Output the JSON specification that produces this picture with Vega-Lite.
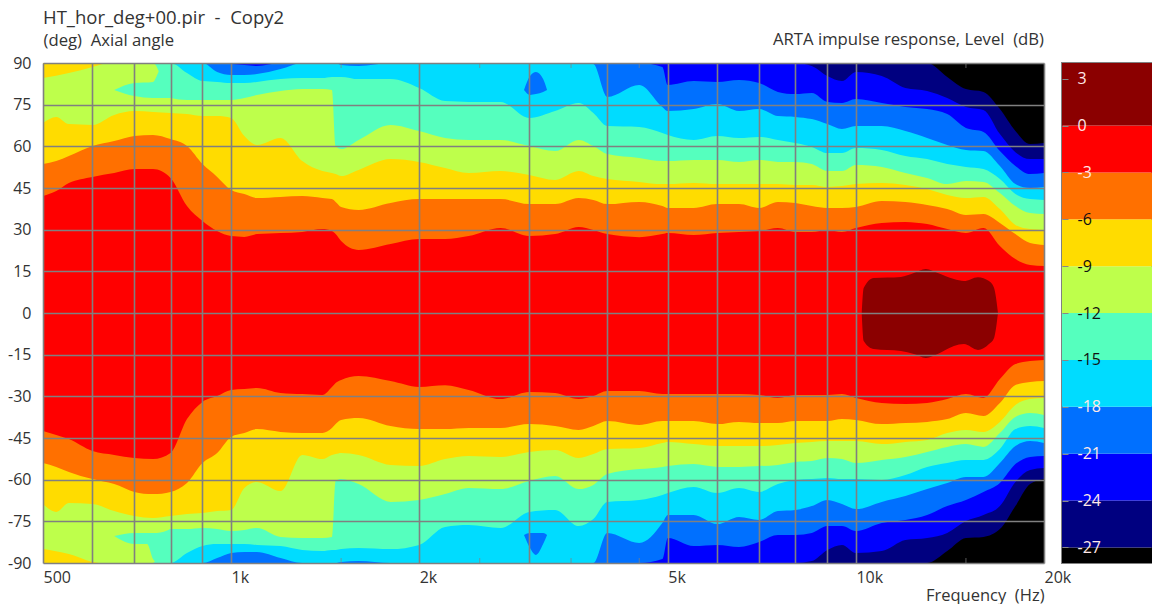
{"$schema":"https://vega.github.io/schema/vega-lite/v6.json","background":"white","padding":{"left":7,"top":8,"right":0,"bottom":0},"bounds":"flush","spacing":18,
"config":{"font":"Open Sans","view":{"stroke":null},"area":{"interpolate":"monotone"}},
"datasets":{
"contours":[
{"hz":500,"t3":42.1,"b3":-42.5,"t6":53.6,"b6":-54,"t9":68.4,"b9":-68.8,"t12":90,"b12":-90,"t15":90,"b15":-90,"t18":90,"b18":-90,"t21":90,"b21":-90,"t24":90,"b24":-90,"t27":90,"b27":-90},
{"hz":525,"t3":43.9,"b3":-43.9,"t6":54.7,"b6":-55.4,"t9":70.6,"b9":-71.6,"t12":90,"b12":-90,"t15":90,"b15":-90,"t18":90,"b18":-90,"t21":90,"b21":-90,"t24":90,"b24":-90,"t27":90,"b27":-90},
{"hz":550,"t3":46.8,"b3":-45.4,"t6":56.5,"b6":-57.2,"t9":68,"b9":-68.4,"t12":90,"b12":-90,"t15":90,"b15":-90,"t18":90,"b18":-90,"t21":90,"b21":-90,"t24":90,"b24":-90,"t27":90,"b27":-90},
{"hz":600,"t3":49,"b3":-49.7,"t6":60.1,"b6":-59.8,"t9":67.7,"b9":-68.8,"t12":90,"b12":-90,"t15":90,"b15":-90,"t18":90,"b18":-90,"t21":90,"b21":-90,"t24":90,"b24":-90,"t27":90,"b27":-90},
{"hz":650,"t3":50.4,"b3":-51.1,"t6":61.9,"b6":-61.6,"t9":71.3,"b9":-71.3,"t12":90,"b12":-90,"t15":90,"b15":-90,"t18":90,"b18":-90,"t21":90,"b21":-90,"t24":90,"b24":-90,"t27":90,"b27":-90},
{"hz":700,"t3":51.8,"b3":-52.2,"t6":63.7,"b6":-64.4,"t9":72.7,"b9":-73.1,"t12":90,"b12":-90,"t15":90,"b15":-90,"t18":90,"b18":-90,"t21":90,"b21":-90,"t24":90,"b24":-90,"t27":90,"b27":-90},
{"hz":750,"t3":51.8,"b3":-52.6,"t6":64.1,"b6":-65.2,"t9":72.4,"b9":-73.8,"t12":90,"b12":-90,"t15":90,"b15":-90,"t18":90,"b18":-90,"t21":90,"b21":-90,"t24":90,"b24":-90,"t27":90,"b27":-90},
{"hz":800,"t3":48.6,"b3":-50.4,"t6":62.6,"b6":-64.4,"t9":72,"b9":-73.1,"t12":77.4,"b12":-77.8,"t15":90,"b15":-90,"t18":90,"b18":-90,"t21":90,"b21":-90,"t24":90,"b24":-90,"t27":90,"b27":-90},
{"hz":850,"t3":38.5,"b3":-38.2,"t6":60.1,"b6":-61.2,"t9":71.6,"b9":-72.4,"t12":76.7,"b12":-77.8,"t15":86.4,"b15":-86.4,"t18":90,"b18":-90,"t21":90,"b21":-90,"t24":90,"b24":-90,"t27":90,"b27":-90},
{"hz":900,"t3":33.1,"b3":-32,"t6":53.6,"b6":-54,"t9":70.9,"b9":-72,"t12":76.7,"b12":-77.4,"t15":83.5,"b15":-83.9,"t18":90,"b18":-90,"t21":90,"b21":-90,"t24":90,"b24":-90,"t27":90,"b27":-90},
{"hz":950,"t3":29.5,"b3":-29.9,"t6":49,"b6":-50.4,"t9":70.9,"b9":-71.3,"t12":76.7,"b12":-77.8,"t15":83.2,"b15":-83.2,"t18":86.8,"b18":-88.2,"t21":90,"b21":-90,"t24":90,"b24":-90,"t27":90,"b27":-90},
{"hz":1000,"t3":27.7,"b3":-27.7,"t6":44.3,"b6":-44.6,"t9":70.2,"b9":-70.9,"t12":76.7,"b12":-78.5,"t15":82.8,"b15":-83.2,"t18":85.7,"b18":-86.4,"t21":89.6,"b21":-90,"t24":90,"b24":-90,"t27":90,"b27":-90},
{"hz":1050,"t3":27.4,"b3":-27.4,"t6":42.8,"b6":-43.2,"t9":63.7,"b9":-63,"t12":77.4,"b12":-78.1,"t15":82.8,"b15":-83.2,"t18":85.7,"b18":-86,"t21":89.3,"b21":-90,"t24":90,"b24":-90,"t27":90,"b27":-90},
{"hz":1100,"t3":28.4,"b3":-27,"t6":41.4,"b6":-41.8,"t9":60.5,"b9":-60.8,"t12":78.5,"b12":-77.4,"t15":83.2,"b15":-83.5,"t18":86,"b18":-86,"t21":88.9,"b21":-90,"t24":90,"b24":-90,"t27":90,"b27":-90},
{"hz":1200,"t3":28.8,"b3":-28.8,"t6":41.8,"b6":-42.8,"t9":63,"b9":-64.1,"t12":79.9,"b12":-80.6,"t15":84.2,"b15":-83.9,"t18":87.8,"b18":-88.2,"t21":90,"b21":-90,"t24":90,"b24":-90,"t27":90,"b27":-90},
{"hz":1300,"t3":29.2,"b3":-29.2,"t6":42.1,"b6":-43.2,"t9":54.7,"b9":-51.1,"t12":80.6,"b12":-81,"t15":84.6,"b15":-85.3,"t18":90,"b18":-90,"t21":90,"b21":-90,"t24":90,"b24":-90,"t27":90,"b27":-90},
{"hz":1400,"t3":30.2,"b3":-29.5,"t6":41.4,"b6":-43.2,"t9":51.1,"b9":-52.6,"t12":80.6,"b12":-81,"t15":84.6,"b15":-85.7,"t18":90,"b18":-90,"t21":90,"b21":-90,"t24":90,"b24":-90,"t27":90,"b27":-90},
{"hz":1450,"t3":29.5,"b3":-26.6,"t6":41,"b6":-41.4,"t9":50.4,"b9":-51.1,"t12":80.3,"b12":-80.6,"t15":85,"b15":-85.3,"t18":90,"b18":-90,"t21":90,"b21":-90,"t24":90,"b24":-90,"t27":90,"b27":-90},
{"hz":1470,"t3":28.4,"b3":-25.2,"t6":40,"b6":-40,"t9":50,"b9":-50.8,"t12":60.1,"b12":-60.5,"t15":85,"b15":-85.3,"t18":90,"b18":-90,"t21":90,"b21":-90,"t24":90,"b24":-90,"t27":90,"b27":-90},
{"hz":1500,"t3":25.9,"b3":-24.1,"t6":38.2,"b6":-38.5,"t9":49.3,"b9":-50.4,"t12":59,"b12":-59.8,"t15":85,"b15":-85,"t18":89.3,"b18":-89.6,"t21":90,"b21":-90,"t24":90,"b24":-90,"t27":90,"b27":-90},
{"hz":1600,"t3":22.7,"b3":-22.7,"t6":37.1,"b6":-37.8,"t9":51.5,"b9":-51.1,"t12":62.3,"b12":-61.6,"t15":84.2,"b15":-84.6,"t18":88.9,"b18":-89.3,"t21":90,"b21":-90,"t24":90,"b24":-90,"t27":90,"b27":-90},
{"hz":1800,"t3":24.8,"b3":-24.5,"t6":39.6,"b6":-40.7,"t9":55.4,"b9":-54.7,"t12":67.7,"b12":-68,"t15":84.2,"b15":-85,"t18":90,"b18":-90,"t21":90,"b21":-90,"t24":90,"b24":-90,"t27":90,"b27":-90},
{"hz":2000,"t3":26.6,"b3":-26.6,"t6":41,"b6":-41.8,"t9":54.4,"b9":-55.1,"t12":65.5,"b12":-67.3,"t15":81,"b15":-83.5,"t18":90,"b18":-90,"t21":90,"b21":-90,"t24":90,"b24":-90,"t27":90,"b27":-90},
{"hz":2200,"t3":26.6,"b3":-26,"t6":41,"b6":-41.8,"t9":52.2,"b9":-52.6,"t12":63,"b12":-65.2,"t15":76.3,"b15":-77,"t18":90,"b18":-90,"t21":90,"b21":-90,"t24":90,"b24":-90,"t27":90,"b27":-90},
{"hz":2400,"t3":27.7,"b3":-27.7,"t6":41,"b6":-41.4,"t9":50.4,"b9":-51.5,"t12":62.3,"b12":-63,"t15":76,"b15":-76.3,"t18":90,"b18":-90,"t21":90,"b21":-90,"t24":90,"b24":-90,"t27":90,"b27":-90},
{"hz":2700,"t3":30.6,"b3":-31,"t6":41,"b6":-41.4,"t9":51.1,"b9":-51.8,"t12":62.3,"b12":-63.4,"t15":76,"b15":-77.4,"t18":90,"b18":-90,"t21":90,"b21":-90,"t24":90,"b24":-90,"t27":90,"b27":-90},
{"hz":3000,"t3":27.7,"b3":-28.4,"t6":39.2,"b6":-40,"t9":49.7,"b9":-50,"t12":60.1,"b12":-60.5,"t15":70.2,"b15":-71.6,"t18":90,"b18":-90,"t21":90,"b21":-90,"t24":90,"b24":-90,"t27":90,"b27":-90},
{"hz":3300,"t3":28.4,"b3":-28.8,"t6":39.2,"b6":-40.7,"t9":47.9,"b9":-49.3,"t12":58.3,"b12":-58.7,"t15":72.7,"b15":-70.9,"t18":90,"b18":-90,"t21":90,"b21":-90,"t24":90,"b24":-90,"t27":90,"b27":-90},
{"hz":3600,"t3":31,"b3":-31,"t6":41.4,"b6":-42.1,"t9":51.1,"b9":-52.2,"t12":62.3,"b12":-63.4,"t15":75.6,"b15":-76.7,"t18":90,"b18":-90,"t21":90,"b21":-90,"t24":90,"b24":-90,"t27":90,"b27":-90},
{"hz":3800,"t3":29.9,"b3":-29.9,"t6":40.7,"b6":-40.7,"t9":49.3,"b9":-50.8,"t12":60.1,"b12":-61.9,"t15":72,"b15":-74.2,"t18":89.6,"b18":-90,"t21":90,"b21":-90,"t24":90,"b24":-90,"t27":90,"b27":-90},
{"hz":4000,"t3":28.4,"b3":-28.1,"t6":39.2,"b6":-38.9,"t9":48.2,"b9":-49,"t12":57.2,"b12":-58,"t15":67.3,"b15":-68,"t18":77.8,"b18":-79.2,"t21":90,"b21":-90,"t24":90,"b24":-90,"t27":90,"b27":-90},
{"hz":4500,"t3":27.3,"b3":-28.1,"t6":40,"b6":-40.3,"t9":47.2,"b9":-48.6,"t12":55.8,"b12":-56.2,"t15":67,"b15":-67.3,"t18":82.1,"b18":-82.8,"t21":90,"b21":-90,"t24":90,"b24":-90,"t27":90,"b27":-90},
{"hz":4900,"t3":28.4,"b3":-29.2,"t6":38.5,"b6":-38.9,"t9":46.4,"b9":-46.8,"t12":54.7,"b12":-55.4,"t15":64.8,"b15":-65.5,"t18":74.2,"b18":-75.6,"t21":88.6,"b21":-88.6,"t24":90,"b24":-90,"t27":90,"b27":-90},
{"hz":5000,"t3":28.8,"b3":-29.2,"t6":37.8,"b6":-38.9,"t9":46.4,"b9":-46.4,"t12":54.7,"b12":-55.1,"t15":64.1,"b15":-64.8,"t18":72.7,"b18":-72.7,"t21":82.1,"b21":-81,"t24":90,"b24":-90,"t27":90,"b27":-90},
{"hz":5500,"t3":28.1,"b3":-29.2,"t6":37.8,"b6":-38.9,"t9":46.8,"b9":-47.2,"t12":55.1,"b12":-54.4,"t15":62.3,"b15":-62.6,"t18":73.4,"b18":-72.7,"t21":83.5,"b21":-83.9,"t24":90,"b24":-90,"t27":90,"b27":-90},
{"hz":6000,"t3":28.8,"b3":-29.2,"t6":39.2,"b6":-40,"t9":46.4,"b9":-47.9,"t12":55.1,"b12":-55.4,"t15":63.7,"b15":-64.8,"t18":75.2,"b18":-76,"t21":83.2,"b21":-83.5,"t24":90,"b24":-90,"t27":90,"b27":-90},
{"hz":6500,"t3":29.2,"b3":-29.2,"t6":39.2,"b6":-39.2,"t9":46.4,"b9":-47.9,"t12":54.4,"b12":-55.4,"t15":63,"b15":-63,"t18":72.7,"b18":-73.4,"t21":83.9,"b21":-84.2,"t24":90,"b24":-90,"t27":90,"b27":-90},
{"hz":7000,"t3":29.5,"b3":-29.5,"t6":37.8,"b6":-39.6,"t9":46.4,"b9":-47.9,"t12":55.1,"b12":-55.1,"t15":63.4,"b15":-64.4,"t18":73.4,"b18":-74.5,"t21":82.8,"b21":-82.4,"t24":90,"b24":-90,"t27":90,"b27":-90},
{"hz":7500,"t3":30.6,"b3":-30.6,"t6":40,"b6":-39.6,"t9":46.4,"b9":-47.5,"t12":54.4,"b12":-54.7,"t15":62.3,"b15":-61.6,"t18":70.9,"b18":-71.3,"t21":79.6,"b21":-79.9,"t24":90,"b24":-90,"t27":90,"b27":-90},
{"hz":8000,"t3":29.2,"b3":-29.5,"t6":39.6,"b6":-38.9,"t9":46.1,"b9":-46.8,"t12":54.4,"b12":-53.6,"t15":61.2,"b15":-60.1,"t18":70.6,"b18":-70.9,"t21":78.8,"b21":-79.9,"t24":90,"b24":-90,"t27":90,"b27":-90},
{"hz":8500,"t3":29.2,"b3":-29.5,"t6":38.5,"b6":-38.9,"t9":46.1,"b9":-46.4,"t12":53.6,"b12":-53.3,"t15":59.8,"b15":-59.8,"t18":69.8,"b18":-69.5,"t21":79.2,"b21":-79.2,"t24":88.9,"b24":-89.3,"t27":90,"b27":-90},
{"hz":9000,"t3":29.9,"b3":-29.5,"t6":37.8,"b6":-38.9,"t9":45.4,"b9":-46.1,"t12":51.1,"b12":-52.2,"t15":57.6,"b15":-59.4,"t18":68,"b18":-67.3,"t21":76,"b21":-76.7,"t24":85.3,"b24":-85.3,"t27":90,"b27":-90},
{"hz":9500,"t3":29.2,"b3":-29.2,"t6":37.8,"b6":-38.2,"t9":45.7,"b9":-46.1,"t12":51.1,"b12":-52.6,"t15":57.6,"b15":-59.8,"t18":66.2,"b18":-68.8,"t21":75.6,"b21":-76.7,"t24":83.5,"b24":-83.5,"t27":90,"b27":-90},
{"hz":10000,"t3":30.6,"b3":-30.6,"t6":38.2,"b6":-38.5,"t9":46.4,"b9":-46.1,"t12":53.3,"b12":-54,"t15":59.4,"b15":-59.8,"t18":67.3,"b18":-70.6,"t21":77,"b21":-78.5,"t24":86.8,"b24":-86.4,"t27":90,"b27":-90},
{"hz":11000,"t3":32.4,"b3":-32.4,"t6":40.3,"b6":-40,"t9":46.8,"b9":-47.2,"t12":52.6,"b12":-52.9,"t15":58.7,"b15":-60.1,"t18":67.3,"b18":-68,"t21":75.6,"b21":-75.6,"t24":85.3,"b24":-85.7,"t27":90,"b27":-90},
{"hz":12000,"t3":32.8,"b3":-32.8,"t6":40,"b6":-39.6,"t9":46.1,"b9":-46.4,"t12":50.4,"b12":-51.8,"t15":56.5,"b15":-58.3,"t18":65.5,"b18":-65.9,"t21":74.2,"b21":-74.5,"t24":81,"b24":-81.7,"t27":90,"b27":-90},
{"hz":13000,"t3":32,"b3":-32.4,"t6":38.9,"b6":-39.2,"t9":44.6,"b9":-45.7,"t12":48.6,"b12":-50,"t15":55.4,"b15":-55.4,"t18":63,"b18":-63.4,"t21":73.4,"b21":-72.7,"t24":79.9,"b24":-81,"t27":90,"b27":-90},
{"hz":14000,"t3":30.2,"b3":-31,"t6":37.4,"b6":-38.2,"t9":42.5,"b9":-43.2,"t12":46.4,"b12":-48.2,"t15":53.6,"b15":-54,"t18":60.5,"b18":-61.2,"t21":71.6,"b21":-69.5,"t24":77.4,"b24":-79.2,"t27":85,"b27":-85.7},
{"hz":15000,"t3":28.8,"b3":-29.2,"t6":35.3,"b6":-36,"t9":41.4,"b9":-42.1,"t12":47.5,"b12":-47.2,"t15":52.6,"b15":-52.9,"t18":58.7,"b18":-59,"t21":66.6,"b21":-67.3,"t24":74.2,"b24":-74.9,"t27":80.6,"b27":-81},
{"hz":16000,"t3":30.6,"b3":-30.6,"t6":35.6,"b6":-37.1,"t9":41.8,"b9":-42.8,"t12":47.2,"b12":-48.2,"t15":51.8,"b15":-52.9,"t18":58.3,"b18":-59,"t21":65.2,"b21":-64.4,"t24":73.1,"b24":-72.7,"t27":79.6,"b27":-80.6},
{"hz":17000,"t3":24.1,"b3":-23.8,"t6":32.4,"b6":-32.4,"t9":37.4,"b9":-39.2,"t12":43.2,"b12":-43.2,"t15":48.2,"b15":-49,"t18":52.9,"b18":-54,"t21":58.3,"b21":-61.2,"t24":64.4,"b24":-69.5,"t27":73.4,"b27":-77.8},
{"hz":18000,"t3":19.4,"b3":-18.4,"t6":28.4,"b6":-25.9,"t9":31.7,"b9":-33.1,"t12":38.5,"b12":-37.4,"t15":42.8,"b15":-41.8,"t18":46.4,"b18":-47.9,"t21":52.9,"b21":-54.4,"t24":57.9,"b24":-60.8,"t27":65.5,"b27":-69.5},
{"hz":19000,"t3":17.3,"b3":-17.3,"t6":25.2,"b6":-24.8,"t9":30.2,"b9":-31,"t12":36,"b12":-36,"t15":41,"b15":-40.7,"t18":45,"b18":-46.1,"t21":50,"b21":-51.8,"t24":55.4,"b24":-56.5,"t27":60.8,"b27":-61.6},
{"hz":20000,"t3":16.9,"b3":-16.9,"t6":24.5,"b6":-24.5,"t9":29.9,"b9":-30.6,"t12":35.6,"b12":-36.7,"t15":40.7,"b15":-41.4,"t18":45.4,"b18":-46.8,"t21":50.4,"b21":-51.5,"t24":55.4,"b24":-55.8,"t27":61.2,"b27":-59.8}
],
"tongue":[
{"hz":650,"hi":80.3,"lo":80.3,"side":"upper"},{"hz":700,"hi":82.8,"lo":78.1,"side":"upper"},{"hz":750,"hi":83.2,"lo":77.4,"side":"upper"},{"hz":767,"hi":87.1,"lo":77.4,"side":"upper"},{"hz":782,"hi":89.6,"lo":77.4,"side":"upper"},{"hz":800,"hi":90,"lo":77.4,"side":"upper"},
{"hz":650,"hi":-80.3,"lo":-80.3,"side":"lower"},{"hz":700,"hi":-79.2,"lo":-83.2,"side":"lower"},{"hz":734,"hi":-79.2,"lo":-83.2,"side":"lower"},{"hz":750,"hi":-79.2,"lo":-88.6,"side":"lower"},{"hz":761,"hi":-79.2,"lo":-90,"side":"lower"},{"hz":800,"hi":-77.8,"lo":-90,"side":"lower"}
],
"corner":[
{"hz":500,"hi":90,"lo":84.6,"side":"upper"},{"hz":550,"hi":90,"lo":86.4,"side":"upper"},{"hz":600,"hi":90,"lo":88.6,"side":"upper"},{"hz":631,"hi":90,"lo":90,"side":"upper"},
{"hz":500,"hi":-85,"lo":-90,"side":"lower"},{"hz":550,"hi":-86.8,"lo":-90,"side":"lower"},{"hz":600,"hi":-89.6,"lo":-90,"side":"lower"},{"hz":615,"hi":-90,"lo":-90,"side":"lower"}
],
"spot":[
{"hz":2943,"hi":80.3,"lo":80.3,"side":"upper"},{"hz":3009,"hi":85.3,"lo":78.5,"side":"upper"},{"hz":3076,"hi":86.8,"lo":78.8,"side":"upper"},{"hz":3158,"hi":84.2,"lo":79.6,"side":"upper"},{"hz":3204,"hi":80.3,"lo":80.3,"side":"upper"},
{"hz":2943,"hi":-79.9,"lo":-79.9,"side":"lower"},{"hz":3009,"hi":-79.2,"lo":-84.6,"side":"lower"},{"hz":3076,"hi":-79.2,"lo":-87.1,"side":"lower"},{"hz":3158,"hi":-79.2,"lo":-83.2,"side":"lower"},{"hz":3204,"hi":-79.9,"lo":-79.9,"side":"lower"}
],
"peak":[
{"hz":10216,"hi":0,"lo":0},{"hz":10290,"hi":9,"lo":-10.1},{"hz":10680,"hi":12.6,"lo":-13},{"hz":11800,"hi":13,"lo":-13.7},{"hz":12380,"hi":14.4,"lo":-14.8},{"hz":12940,"hi":15.8,"lo":-16.2},{"hz":13520,"hi":14.4,"lo":-14.8},{"hz":14350,"hi":12.2,"lo":-11.9},{"hz":14890,"hi":11.5,"lo":-11.2},{"hz":15680,"hi":12.9,"lo":-13.3},{"hz":16330,"hi":11.5,"lo":-11.2},{"hz":16640,"hi":9,"lo":-9},{"hz":16880,"hi":0,"lo":0}
],
"minor":[{"hz":1500},{"hz":2500},{"hz":3500},{"hz":4500},{"hz":15000}],
"bands":[
{"lo":-28,"hi":-27},{"lo":-27,"hi":-24},{"lo":-24,"hi":-21},{"lo":-21,"hi":-18},{"lo":-18,"hi":-15},{"lo":-15,"hi":-12},{"lo":-12,"hi":-9},{"lo":-9,"hi":-6},{"lo":-6,"hi":-3},{"lo":-3,"hi":0},{"lo":0,"hi":4}
]},
"hconcat":[
{"width":1001,"height":500,
"title":{"text":"HT_hor_deg+00.pir\u00a0 -\u00a0 Copy2","anchor":"start","frame":"group","fontSize":18.5,"fontWeight":"normal","color":"#333","offset":5},
"data":{"name":"contours"},
"encoding":{"x":{"field":"hz","type":"quantitative","scale":{"type":"log","domain":[500,20000],"nice":false},
"axis":{"values":[500,600,700,800,900,1000,2000,3000,4000,5000,6000,7000,8000,9000,10000,20000],"labelExpr":"datum.value==500?'500':datum.value==1000?'1k':datum.value==2000?'2k':datum.value==5000?'5k':datum.value==10000?'10k':datum.value==20000?'20k':''","grid":true,"gridColor":"#808080","gridWidth":1.6,"ticks":false,"domain":false,"labelAlign":"left","labelPadding":6,"labelFontSize":16,"labelColor":"#333","labelOverlap":false,"labelFlush":false,"title":"Frequency\u00a0 (Hz)","titleFontSize":16.5,"titleFontWeight":"normal","titleColor":"#333","titleAnchor":"end","titleAlign":"right","titlePadding":2,"zindex":1}}},
"layer":[
{"mark":{"type":"area","color":"#000000"},"encoding":{"y":{"datum":90,"type":"quantitative","scale":{"domain":[-90,90],"nice":false},
"axis":{"values":[-90,-75,-60,-45,-30,-15,0,15,30,45,60,75,90],"labelExpr":"toString(datum.value)","grid":true,"gridColor":"#808080","gridWidth":1.6,"ticks":false,"domain":false,"labelPadding":12,"labelFontSize":16,"labelColor":"#333","title":"(deg)\u00a0 Axial angle","titleAngle":0,"titleAlign":"left","titleBaseline":"middle","titleX":0,"titleY":-23,"titleFontSize":16.7,"titleFontWeight":"normal","titleColor":"#333","zindex":1}},"y2":{"datum":-90}}},
{"mark":{"type":"area","color":"#000080"},"encoding":{"y":{"field":"t27","type":"quantitative"},"y2":{"field":"b27"}}},
{"mark":{"type":"area","color":"#0000FF"},"encoding":{"y":{"field":"t24","type":"quantitative"},"y2":{"field":"b24"}}},
{"mark":{"type":"area","color":"#0070FF"},"encoding":{"y":{"field":"t21","type":"quantitative"},"y2":{"field":"b21"}}},
{"mark":{"type":"area","color":"#00DCFF"},"encoding":{"y":{"field":"t18","type":"quantitative"},"y2":{"field":"b18"}}},
{"data":{"name":"spot"},"mark":{"type":"area","color":"#0070FF"},"encoding":{"y":{"field":"hi","type":"quantitative"},"y2":{"field":"lo"},"detail":{"field":"side"}}},
{"mark":{"type":"area","color":"#55FFBE"},"encoding":{"y":{"field":"t15","type":"quantitative"},"y2":{"field":"b15"}}},
{"mark":{"type":"area","color":"#BEFF4B"},"encoding":{"y":{"field":"t12","type":"quantitative"},"y2":{"field":"b12"}}},
{"data":{"name":"tongue"},"mark":{"type":"area","color":"#55FFBE"},"encoding":{"y":{"field":"hi","type":"quantitative"},"y2":{"field":"lo"},"detail":{"field":"side"}}},
{"data":{"name":"corner"},"mark":{"type":"area","color":"#FFDC00"},"encoding":{"y":{"field":"hi","type":"quantitative"},"y2":{"field":"lo"},"detail":{"field":"side"}}},
{"mark":{"type":"area","color":"#FFDC00"},"encoding":{"y":{"field":"t9","type":"quantitative"},"y2":{"field":"b9"}}},
{"mark":{"type":"area","color":"#FF7000"},"encoding":{"y":{"field":"t6","type":"quantitative"},"y2":{"field":"b6"}}},
{"mark":{"type":"area","color":"#FF0000"},"encoding":{"y":{"field":"t3","type":"quantitative"},"y2":{"field":"b3"}}},
{"data":{"name":"peak"},"mark":{"type":"area","color":"#8B0000"},"encoding":{"y":{"field":"hi","type":"quantitative"},"y2":{"field":"lo"}}},
{"data":{"name":"minor"},"mark":{"type":"tick","orient":"vertical","size":10,"thickness":1,"color":"#808080","clip":true},"encoding":{"y":{"datum":90,"type":"quantitative"}}},
{"data":{"name":"minor"},"mark":{"type":"tick","orient":"vertical","size":10,"thickness":1,"color":"#808080","clip":true},"encoding":{"y":{"datum":-90,"type":"quantitative"}}},
{"data":{"values":[{"hz":20000}]},"mark":{"type":"text","align":"right","baseline":"middle","dy":-23,"fontSize":16.7,"color":"#333","font":"Open Sans"},"encoding":{"y":{"datum":90,"type":"quantitative"},"text":{"value":"ARTA impulse response, Level\u00a0 (dB)"}}}
]},
{"width":90,"height":500,"data":{"name":"bands"},
"view":{"stroke":"#808080","strokeWidth":2},
"mark":{"type":"rect"},
"encoding":{
"y":{"field":"lo","type":"quantitative","scale":{"domain":[-28,4],"nice":false},"axis":{"values":[3,0,-3,-6,-9,-12,-15,-18,-21,-24,-27],"labelExpr":"toString(datum.value)","title":null,"grid":false,"domain":false,"tickSize":-6,"tickColor":"#888","labelAlign":"left","labelPadding":-9,"labelFontSize":16,"labelColor":{"condition":{"test":"datum.value>=-3||datum.value<=-18","value":"#FFE8E8"},"value":"#111"},"zindex":1}},
"y2":{"field":"hi"},
"color":{"field":"lo","type":"ordinal","legend":null,"scale":{"domain":[-28,-27,-24,-21,-18,-15,-12,-9,-6,-3,0],"range":["#000000","#000080","#0000FF","#0070FF","#00DCFF","#55FFBE","#BEFF4B","#FFDC00","#FF7000","#FF0000","#8B0000"]}}
}}
]}
